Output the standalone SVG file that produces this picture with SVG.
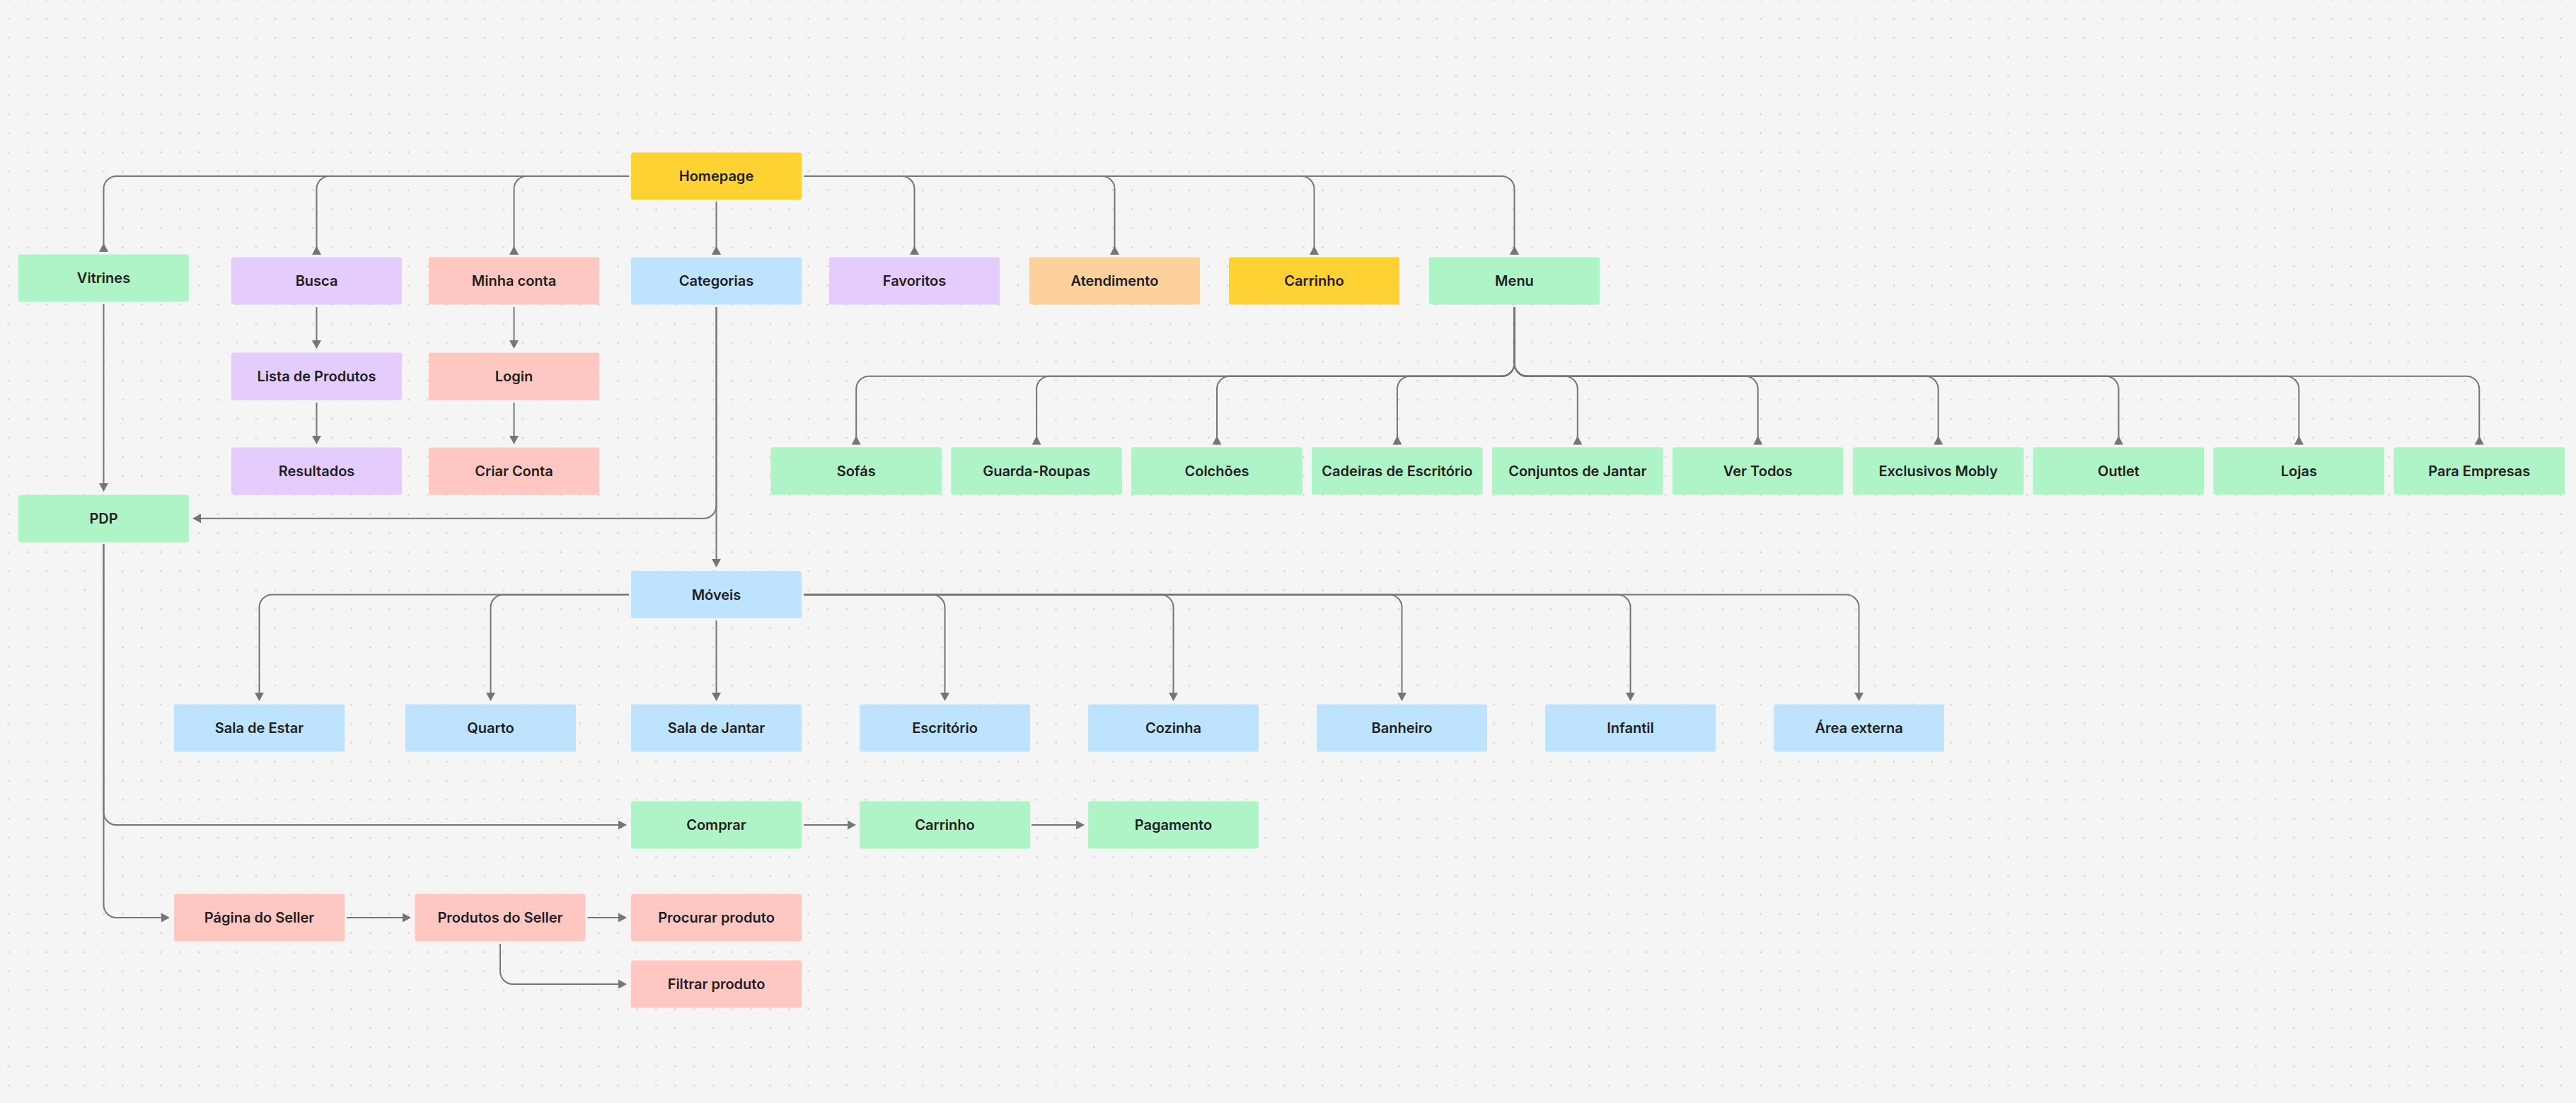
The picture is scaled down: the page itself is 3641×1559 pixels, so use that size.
<svg xmlns="http://www.w3.org/2000/svg" width="3641" height="1559" viewBox="0 0 3641 1559">
<style>
.n rect{rx:3px;ry:3px}
.g rect{fill:#AFF4C6}
.p rect{fill:#E4CCFF}
.r rect{fill:#FFC7C2}
.b rect{fill:#BDE3FF}
.o rect{fill:#FCD19C}
.y rect{fill:#FFD233}
.n text{font-family:Inter,"Noto Sans","Liberation Sans",sans-serif;font-size:20px;font-weight:600;fill:#1e1e1e;text-anchor:middle}
.c path{fill:none;stroke:#757575;stroke-width:2}
.c .f{marker-end:url(#arr)}
.c .v{marker-end:url(#rev)}
</style>
<defs>
<pattern id="dots" patternUnits="userSpaceOnUse" x="-1.46" y="-13.76" width="26.92" height="26.92">
<rect x="12.46" y="12.46" width="2" height="2" fill="#c6c6c6"/>
</pattern>
<marker id="arr" markerUnits="userSpaceOnUse" viewBox="0 0 12 13" refX="8" refY="6.5" markerWidth="12" markerHeight="13" orient="auto">
<path d="M0,0 L12,6.5 L0,13 z" fill="#757575"/>
</marker>
<marker id="rev" markerUnits="userSpaceOnUse" viewBox="0 0 13 13" refX="12.5" refY="6.5" markerWidth="13" markerHeight="13" orient="auto">
<path d="M12.5,0 L0,6.5 L12.5,13 z" fill="#757575"/>
</marker>
</defs>
<rect width="3641" height="1559" fill="#f5f5f5"/>
<rect width="3641" height="1559" fill="url(#dots)"/>

<g id="connectors" class="c">
<!-- Homepage to top row -->
<path class="v" d="M889,249 H164.5 A18,18 0 0 0 146.5,267 V356"/>
<path class="v" d="M889,249 H465.5 A18,18 0 0 0 447.5,267 V360"/>
<path class="v" d="M889,249 H744.5 A18,18 0 0 0 726.5,267 V360"/>
<path class="v" d="M1012.5,285 V360"/>
<path class="v" d="M1136,249 H1274.5 A18,18 0 0 1 1292.5,267 V360"/>
<path class="v" d="M1136,249 H1557.5 A18,18 0 0 1 1575.5,267 V360"/>
<path class="v" d="M1136,249 H1839.5 A18,18 0 0 1 1857.5,267 V360"/>
<path class="v" d="M1136,249 H2122.5 A18,18 0 0 1 2140.5,267 V360"/>
<!-- Busca / Minha conta chains -->
<path class="f" d="M447.5,434 V489"/>
<path class="f" d="M447.5,569 V624"/>
<path class="f" d="M726.5,434 V489"/>
<path class="f" d="M726.5,569 V624"/>
<!-- Vitrines to PDP -->
<path class="f" d="M146.5,430 V691"/>
<!-- Categorias -->
<path class="f" d="M1012.5,434 V798"/>
<path class="f" d="M1012.5,434 V714.7 A18,18 0 0 1 994.5,732.7 H276"/>
<!-- Menu to children -->
<path class="v" d="M2140.5,434 V513.7 A18,18 0 0 1 2122.5,531.7 H1228.2 A18,18 0 0 0 1210.2,549.7 V628.5"/>
<path class="v" d="M2140.5,434 V513.7 A18,18 0 0 1 2122.5,531.7 H1483.1 A18,18 0 0 0 1465.1,549.7 V628.5"/>
<path class="v" d="M2140.5,434 V513.7 A18,18 0 0 1 2122.5,531.7 H1738 A18,18 0 0 0 1720,549.7 V628.5"/>
<path class="v" d="M2140.5,434 V513.7 A18,18 0 0 1 2122.5,531.7 H1992.9 A18,18 0 0 0 1974.9,549.7 V628.5"/>
<path class="v" d="M2140.5,434 V513.7 A18,18 0 0 0 2158.5,531.7 H2211.8 A18,18 0 0 1 2229.8,549.7 V628.5"/>
<path class="v" d="M2140.5,434 V513.7 A18,18 0 0 0 2158.5,531.7 H2466.7 A18,18 0 0 1 2484.7,549.7 V628.5"/>
<path class="v" d="M2140.5,434 V513.7 A18,18 0 0 0 2158.5,531.7 H2721.6 A18,18 0 0 1 2739.6,549.7 V628.5"/>
<path class="v" d="M2140.5,434 V513.7 A18,18 0 0 0 2158.5,531.7 H2976.5 A18,18 0 0 1 2994.5,549.7 V628.5"/>
<path class="v" d="M2140.5,434 V513.7 A18,18 0 0 0 2158.5,531.7 H3231.4 A18,18 0 0 1 3249.4,549.7 V628.5"/>
<path class="v" d="M2140.5,434 V513.7 A18,18 0 0 0 2158.5,531.7 H3486.3 A18,18 0 0 1 3504.3,549.7 V628.5"/>
<!-- Moveis to rooms -->
<path class="f" d="M889,840.5 H384.5 A18,18 0 0 0 366.5,858.5 V987"/>
<path class="f" d="M889,840.5 H711.5 A18,18 0 0 0 693.5,858.5 V987"/>
<path class="f" d="M1012.5,877 V987"/>
<path class="f" d="M1136,840.5 H1317.5 A18,18 0 0 1 1335.5,858.5 V987"/>
<path class="f" d="M1136,840.5 H1640.5 A18,18 0 0 1 1658.5,858.5 V987"/>
<path class="f" d="M1136,840.5 H1963.5 A18,18 0 0 1 1981.5,858.5 V987"/>
<path class="f" d="M1136,840.5 H2286.5 A18,18 0 0 1 2304.5,858.5 V987"/>
<path class="f" d="M1136,840.5 H2609.5 A18,18 0 0 1 2627.5,858.5 V987"/>
<!-- PDP flows -->
<path class="f" d="M146.5,769 V1148 A18,18 0 0 0 164.5,1166 H882"/>
<path class="f" d="M1136,1166 H1206"/>
<path class="f" d="M1458,1166 H1529"/>
<path class="f" d="M146.5,769 V1279 A18,18 0 0 0 164.5,1297 H236"/>
<path class="f" d="M490,1297 H577"/>
<path class="f" d="M830.5,1297 H882"/>
<path class="f" d="M707,1334 V1373 A18,18 0 0 0 725,1391 H882"/>
</g>

<g id="homepage" class="n y"><rect x="892" y="215.5" width="241" height="67"/><text x="1012.5" y="256">Homepage</text></g>
<g id="vitrines" class="n g"><rect x="26" y="359.5" width="241" height="67"/><text x="146.5" y="400">Vitrines</text></g>
<g id="busca" class="n p"><rect x="327" y="363.5" width="241" height="67"/><text x="447.5" y="404">Busca</text></g>
<g id="minha-conta" class="n r"><rect x="606" y="363.5" width="241" height="67"/><text x="726.5" y="404">Minha conta</text></g>
<g id="categorias" class="n b"><rect x="892" y="363.5" width="241" height="67"/><text x="1012.5" y="404">Categorias</text></g>
<g id="favoritos" class="n p"><rect x="1172" y="363.5" width="241" height="67"/><text x="1292.5" y="404">Favoritos</text></g>
<g id="atendimento" class="n o"><rect x="1455" y="363.5" width="241" height="67"/><text x="1575.5" y="404">Atendimento</text></g>
<g id="carrinho" class="n y"><rect x="1737" y="363.5" width="241" height="67"/><text x="1857.5" y="404">Carrinho</text></g>
<g id="menu" class="n g"><rect x="2020" y="363.5" width="241" height="67"/><text x="2140.5" y="404">Menu</text></g>

<g id="lista-produtos" class="n p"><rect x="327" y="498.5" width="241" height="67"/><text x="447.5" y="539">Lista de Produtos</text></g>
<g id="login" class="n r"><rect x="606" y="498.5" width="241" height="67"/><text x="726.5" y="539">Login</text></g>
<g id="resultados" class="n p"><rect x="327" y="632.5" width="241" height="67"/><text x="447.5" y="673">Resultados</text></g>
<g id="criar-conta" class="n r"><rect x="606" y="632.5" width="241" height="67"/><text x="726.5" y="673">Criar Conta</text></g>

<g id="sofas" class="n g"><rect x="1089.3" y="632.3" width="241.7" height="67"/><text x="1210.2" y="673">Sofás</text></g>
<g id="guarda-roupas" class="n g"><rect x="1344.2" y="632.3" width="241.7" height="67"/><text x="1465.1" y="673">Guarda-Roupas</text></g>
<g id="colchoes" class="n g"><rect x="1599.1" y="632.3" width="241.7" height="67"/><text x="1720" y="673">Colchões</text></g>
<g id="cadeiras" class="n g"><rect x="1854" y="632.3" width="241.7" height="67"/><text x="1974.9" y="673">Cadeiras de Escritório</text></g>
<g id="conjuntos" class="n g"><rect x="2108.9" y="632.3" width="241.7" height="67"/><text x="2229.8" y="673">Conjuntos de Jantar</text></g>
<g id="ver-todos" class="n g"><rect x="2363.8" y="632.3" width="241.7" height="67"/><text x="2484.7" y="673">Ver Todos</text></g>
<g id="exclusivos" class="n g"><rect x="2618.7" y="632.3" width="241.7" height="67"/><text x="2739.6" y="673">Exclusivos Mobly</text></g>
<g id="outlet" class="n g"><rect x="2873.6" y="632.3" width="241.7" height="67"/><text x="2994.5" y="673">Outlet</text></g>
<g id="lojas" class="n g"><rect x="3128.5" y="632.3" width="241.7" height="67"/><text x="3249.4" y="673">Lojas</text></g>
<g id="para-empresas" class="n g"><rect x="3383.4" y="632.3" width="241.7" height="67"/><text x="3504.3" y="673">Para Empresas</text></g>

<g id="pdp" class="n g"><rect x="26" y="699.5" width="241" height="67"/><text x="146.5" y="740">PDP</text></g>
<g id="moveis" class="n b"><rect x="892" y="807" width="241" height="67"/><text x="1012.5" y="847.5">Móveis</text></g>

<g id="sala-estar" class="n b"><rect x="246" y="995.5" width="241" height="67"/><text x="366.5" y="1036">Sala de Estar</text></g>
<g id="quarto" class="n b"><rect x="573" y="995.5" width="241" height="67"/><text x="693.5" y="1036">Quarto</text></g>
<g id="sala-jantar" class="n b"><rect x="892" y="995.5" width="241" height="67"/><text x="1012.5" y="1036">Sala de Jantar</text></g>
<g id="escritorio" class="n b"><rect x="1215" y="995.5" width="241" height="67"/><text x="1335.5" y="1036">Escritório</text></g>
<g id="cozinha" class="n b"><rect x="1538" y="995.5" width="241" height="67"/><text x="1658.5" y="1036">Cozinha</text></g>
<g id="banheiro" class="n b"><rect x="1861" y="995.5" width="241" height="67"/><text x="1981.5" y="1036">Banheiro</text></g>
<g id="infantil" class="n b"><rect x="2184" y="995.5" width="241" height="67"/><text x="2304.5" y="1036">Infantil</text></g>
<g id="area-externa" class="n b"><rect x="2507" y="995.5" width="241" height="67"/><text x="2627.5" y="1036">Área externa</text></g>

<g id="comprar" class="n g"><rect x="892" y="1132.5" width="241" height="67"/><text x="1012.5" y="1173">Comprar</text></g>
<g id="carrinho-2" class="n g"><rect x="1215" y="1132.5" width="241" height="67"/><text x="1335.5" y="1173">Carrinho</text></g>
<g id="pagamento" class="n g"><rect x="1538" y="1132.5" width="241" height="67"/><text x="1658.5" y="1173">Pagamento</text></g>

<g id="pagina-seller" class="n r"><rect x="246" y="1263.5" width="241" height="67"/><text x="366.5" y="1304">Página do Seller</text></g>
<g id="produtos-seller" class="n r"><rect x="586.5" y="1263.5" width="241" height="67"/><text x="707" y="1304">Produtos do Seller</text></g>
<g id="procurar-produto" class="n r"><rect x="892" y="1263.5" width="241" height="67"/><text x="1012.5" y="1304">Procurar produto</text></g>
<g id="filtrar-produto" class="n r"><rect x="892" y="1357.5" width="241" height="67"/><text x="1012.5" y="1398">Filtrar produto</text></g>
</svg>
